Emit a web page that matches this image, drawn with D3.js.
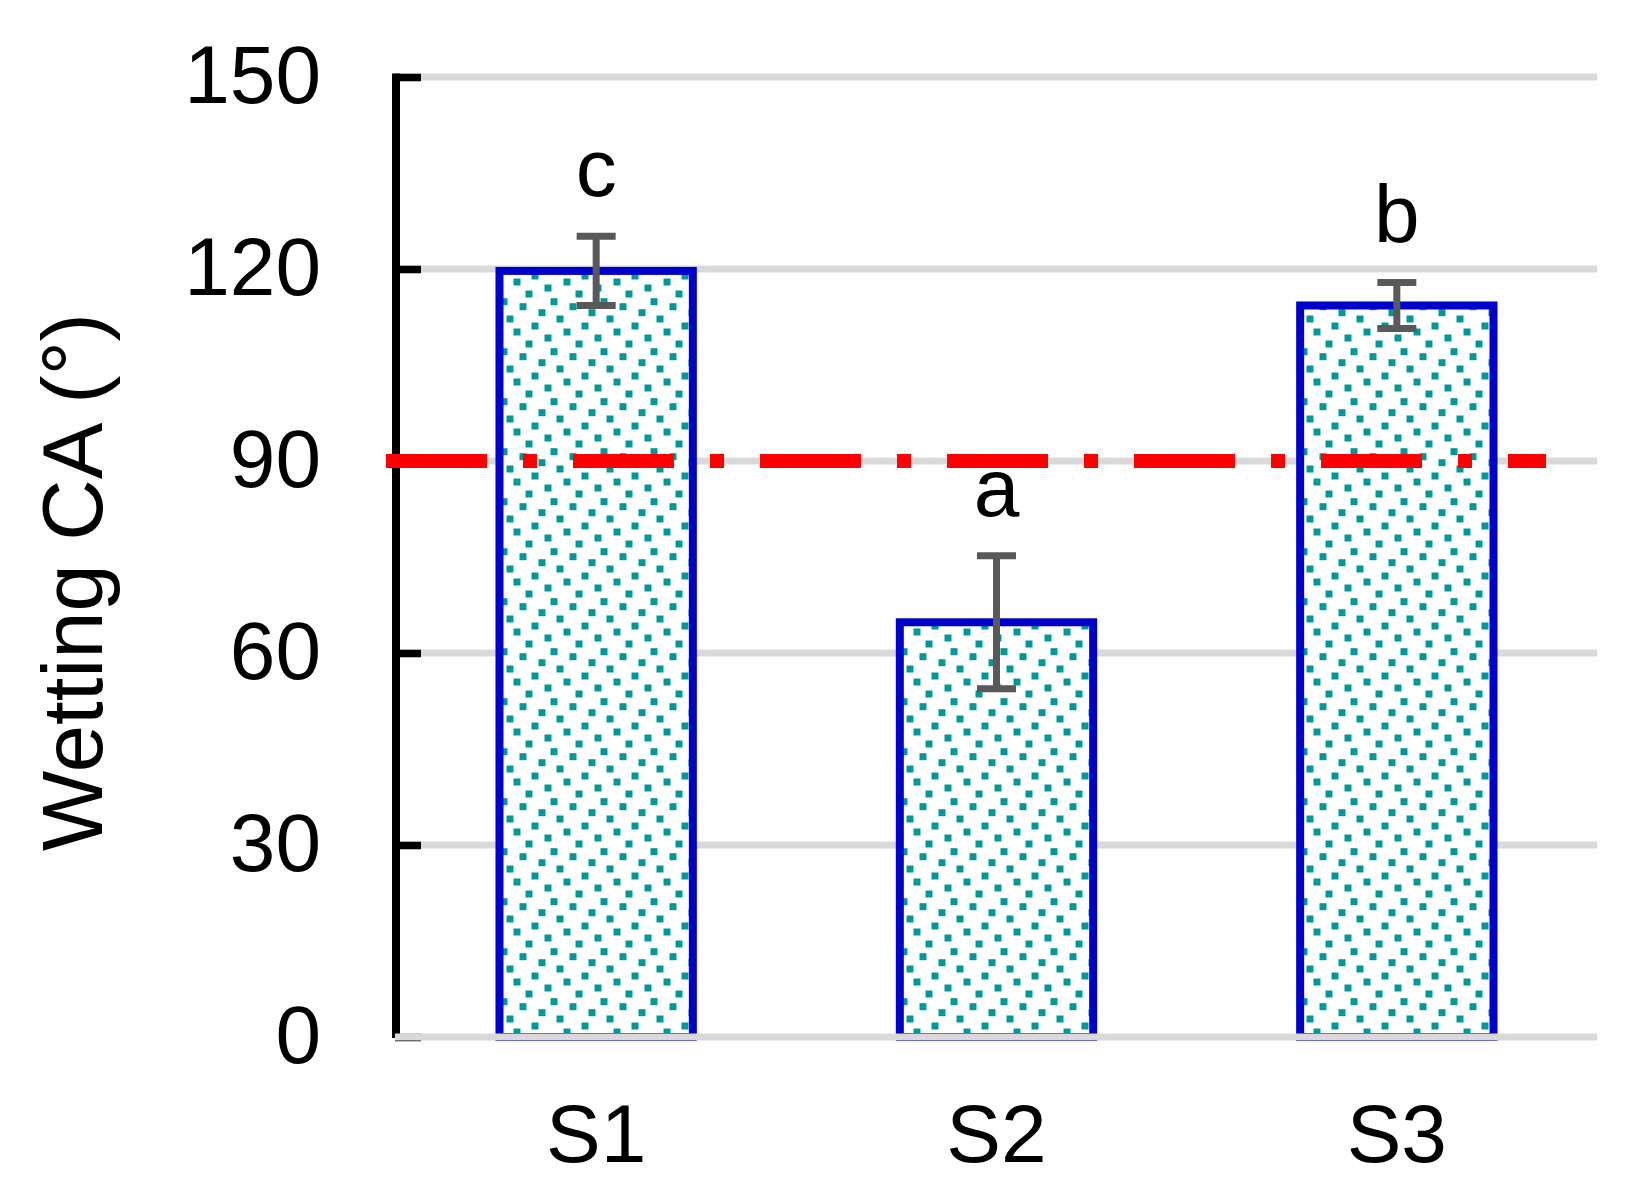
<!DOCTYPE html>
<html>
<head>
<meta charset="utf-8">
<script src="https://cdn.jsdelivr.net/npm/d3@7"></script>
<style>
  body { margin: 0; background: #fff; }
  text { font-family: "Liberation Sans", Arial, sans-serif; fill: #000; }
</style>
</head>
<body>
<script>
// data
let samples = ["S1", "S2", "S3"];
let contactAngle = [119.7, 64.8, 114.3];
let errors = [5.4, 10.4, 3.6];
let groupLetters = ["c", "a", "b"];
let yTicks = [0, 30, 60, 90, 120, 150];
let threshold = 90;

let width = 1637;
let height = 1204;

let svg = d3.select("body").append("svg")
    .attr("width", width)
    .attr("height", height);

// dotted fill, like the excel pattern
let dots = [[1, 1.7], [20, 6.7], [39, 12.7], [7, 19], [32, 26], [14, 32], [45, 38], [26, 44]];
let dotSize = 7;
let pat = svg.append("defs").append("pattern")
    .attr("id", "dots")
    .attr("patternUnits", "userSpaceOnUse")
    .attr("x", 503)
    .attr("y", 700)
    .attr("width", 50)
    .attr("height", 50);
pat.append("rect").attr("width", 50).attr("height", 50).attr("fill", "#fff");
for (let [dx, dy] of dots) {
  for (let ox of [-50, 0, 50]) {
    for (let oy of [-50, 0, 50]) {
      pat.append("rect")
        .attr("x", dx + ox - dotSize / 2)
        .attr("y", dy + oy - dotSize / 2)
        .attr("width", dotSize)
        .attr("height", dotSize)
        .attr("fill", "#009999");
    }
  }
}

let x = d3.scaleBand()
    .domain(samples)
    .range([396, 1597])
    .paddingInner(0.517)
    .paddingOuter(0.2585);

let y = d3.scaleLinear()
    .domain([0, 150])
    .range([1037, 77]);

// gridlines
svg.append("g")
  .selectAll("line")
  .data(yTicks.filter(d => d > 0))
  .enter().append("line")
    .attr("x1", 395)
    .attr("x2", 1597)
    .attr("y1", d => y(d))
    .attr("y2", d => y(d))
    .attr("stroke", "#d9d9d9")
    .attr("stroke-width", 7);

// bars
let rows = samples.map((s, i) => ({name: s, value: contactAngle[i], err: errors[i], letter: groupLetters[i]}));

svg.append("g")
  .selectAll("rect")
  .data(rows)
  .enter().append("rect")
    .attr("x", d => x(d.name))
    .attr("y", d => y(d.value))
    .attr("width", x.bandwidth())
    .attr("height", d => y(0) - y(d.value))
    .attr("fill", "url(#dots)")
    .attr("stroke", "#0000cc")
    .attr("stroke-width", 8);

// error bars
let eb = svg.append("g")
    .attr("stroke", "#595959")
    .attr("stroke-width", 7);
for (let d of rows) {
  let cx = x(d.name) + x.bandwidth() / 2;
  eb.append("line")
    .attr("x1", cx).attr("x2", cx)
    .attr("y1", y(d.value + d.err)).attr("y2", y(d.value - d.err));
  for (let v of [d.value + d.err, d.value - d.err]) {
    eb.append("line")
      .attr("x1", cx - 19.5).attr("x2", cx + 19.5)
      .attr("y1", y(v)).attr("y2", y(v));
  }
}

// y axis with inside ticks
let yAxis = d3.axisRight(y)
    .tickValues(yTicks)
    .tickSize(25)
    .tickFormat("");
let ag = svg.append("g")
    .attr("transform", "translate(396,0)")
    .call(yAxis);
ag.select(".domain")
    .attr("d", "M0," + (y(150) - 3.5) + "V" + (y(0) + 1))
    .attr("stroke", "#000")
    .attr("stroke-width", 8);
ag.selectAll(".tick line")
    .attr("stroke", "#000")
    .attr("stroke-width", 7.5)
    .attr("x1", -1);

// category axis line
svg.append("line")
    .attr("x1", 395).attr("x2", 1597)
    .attr("y1", y(0)).attr("y2", y(0))
    .attr("stroke", "#d9d9d9")
    .attr("stroke-width", 7);

// tick labels
svg.append("g")
  .selectAll("text")
  .data(yTicks)
  .enter().append("text")
    .attr("x", 321)
    .attr("y", d => y(d))
    .attr("dy", "0.32em")
    .attr("text-anchor", "end")
    .attr("font-size", 82)
    .text(d => d);

svg.append("g")
  .selectAll("text")
  .data(samples)
  .enter().append("text")
    .attr("x", d => x(d) + x.bandwidth() / 2)
    .attr("y", 1162)
    .attr("text-anchor", "middle")
    .attr("font-size", 82)
    .text(d => d);

// significance letters
svg.append("g")
  .selectAll("text")
  .data(rows)
  .enter().append("text")
    .attr("x", d => x(d.name) + x.bandwidth() / 2)
    .attr("y", d => y(d.value + d.err) - 40)
    .attr("text-anchor", "middle")
    .attr("font-size", 82)
    .text(d => d.letter);

// threshold line at 90
svg.append("line")
    .attr("x1", 386).attr("x2", 1546)
    .attr("y1", y(threshold)).attr("y2", y(threshold))
    .attr("stroke", "#ff0000")
    .attr("stroke-width", 14)
    .attr("stroke-dasharray", "101 36 14 36");

// y title
svg.append("text")
    .attr("transform", "translate(72,582) rotate(-90)")
    .attr("dy", "0.35em")
    .attr("text-anchor", "middle")
    .attr("font-size", 85)
    .text("Wetting CA (°)");
</script>
</body>
</html>
